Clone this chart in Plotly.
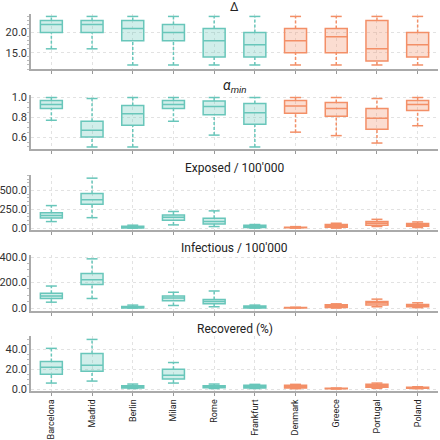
import plotly.graph_objects as go

cities = ["Barcelona", "Madrid", "Berlin", "Milan", "Rome", "Frankfurt",
          "Denmark", "Greece", "Portugal", "Poland"]
group = ["teal"] * 6 + ["orange"] * 4

# Delta
delta_low = [16, 16, 12, 12, 12, 12, 12, 12, 12, 12]
delta_q1 = [20, 20, 18, 18, 14, 14, 15, 15, 13, 14]
delta_med = [22, 22, 21, 20, 18, 17, 18, 19, 16, 17]
delta_q3 = [23, 23, 23, 22, 21, 20, 21, 21, 23, 20]
delta_high = [24, 24, 24, 24, 24, 24, 24, 24, 24, 24]

# alpha_min
alpha_low = [0.77, 0.50, 0.50, 0.76, 0.62, 0.50, 0.65, 0.615, 0.54, 0.715]
alpha_q1 = [0.89, 0.60, 0.72, 0.89, 0.825, 0.73, 0.84, 0.81, 0.68, 0.87]
alpha_med = [0.93, 0.67, 0.835, 0.93, 0.91, 0.845, 0.915, 0.89, 0.79, 0.93]
alpha_q3 = [0.97, 0.76, 0.92, 0.97, 0.965, 0.94, 0.97, 0.95, 0.89, 0.97]
alpha_high = [1.0, 0.99, 1.0, 1.0, 1.0, 1.0, 1.0, 1.0, 0.99, 1.0]

# Exposed / 100'000
exp_low = [87, 139, 0, 43, 21, 0, 0, 0, 22, 8]
exp_q1 = [134, 316, 2, 104, 56, 8, 4, 13, 39, 26]
exp_med = [169, 377, 13, 143, 87, 22, 8, 30, 65, 43]
exp_q3 = [203, 459, 26, 173, 130, 39, 13, 48, 87, 60]
exp_high = [299, 663, 39, 221, 229, 48, 20, 65, 117, 82]

# Infectious / 100'000
inf_low = [46, 75, 0, 20, 10, 0, 0, 0, 10, 3]
inf_q1 = [75, 186, 1, 57, 33, 1, 0.5, 5, 23, 10]
inf_med = [95, 222, 8, 78, 51, 8, 2, 15, 39, 20]
inf_q3 = [116, 271, 12, 95, 67, 15, 4, 26, 51, 28]
inf_high = [173, 387, 23, 124, 134, 23, 6, 33, 70, 41]

# Recovered (%)
rec_low = [6, 8, 0.5, 6, 0.5, 0.5, 0.3, 0, 0.7, 0.3]
rec_q1 = [15, 18, 1, 10, 1.3, 1, 1, 0.2, 1.7, 0.7]
rec_med = [22, 24, 2.3, 14, 2.3, 2.3, 2.3, 0.5, 3.3, 1.3]
rec_q3 = [27.7, 35.7, 3.3, 20, 3.3, 3.7, 3.7, 0.7, 4.7, 1.7]
rec_high = [41, 50, 5, 26.7, 5, 4.7, 4.7, 1, 6, 2.3]

panels = [
    ("Δ", delta_low, delta_q1, delta_med, delta_q3, delta_high, [11, 24.6], 5, 12),
    ("<i>α</i><sub><i>min</i></sub>", alpha_low, alpha_q1, alpha_med, alpha_q3, alpha_high, [0.48, 1.025], 0.2, 14),
    ("Exposed / 100'000", exp_low, exp_q1, exp_med, exp_q3, exp_high, [-25, 705], 250, 12),
    ("Infectious / 100'000", inf_low, inf_q1, inf_med, inf_q3, inf_high, [-24, 418], 200, 12),
    ("Recovered (%)", rec_low, rec_q1, rec_med, rec_q3, rec_high, [-2, 53.5], 20, 12),
]

line_col = {"teal": "rgb(104,198,186)", "orange": "rgb(243,143,103)"}
fill_col = {"teal": "rgba(104,198,186,0.3)", "orange": "rgba(243,143,103,0.3)"}

domains = [[0.854, 1.0], [0.642, 0.785], [0.427, 0.573], [0.212, 0.361], [0.0, 0.146]]

fig = go.Figure()
BOXW = 0.54
CAP = BOXW / 4

for p, (title, lo, q1, med, q3, hi, rng, dt, tsize) in enumerate(panels):
    xa = "x" if p == 0 else f"x{p+1}"
    ya = "y" if p == 0 else f"y{p+1}"
    for i, c in enumerate(cities):
        g = group[i]
        # dashed whiskers
        fig.add_trace(go.Scatter(
            x=[i, i, None, i, i], y=[lo[i], q1[i], None, q3[i], hi[i]],
            mode="lines", line=dict(color=line_col[g], width=1.5, dash="3px,2px"),
            xaxis=xa, yaxis=ya, showlegend=False, hoverinfo="skip"))
        # caps
        fig.add_trace(go.Scatter(
            x=[i - CAP, i + CAP, None, i - CAP, i + CAP],
            y=[lo[i], lo[i], None, hi[i], hi[i]],
            mode="lines", line=dict(color=line_col[g], width=1.5),
            xaxis=xa, yaxis=ya, showlegend=False, hoverinfo="skip"))
        # box
        fig.add_trace(go.Box(
            x=[i], q1=[q1[i]], median=[med[i]], q3=[q3[i]],
            lowerfence=[q1[i]], upperfence=[q3[i]],
            width=BOXW, whiskerwidth=0,
            line=dict(color=line_col[g], width=1.5),
            fillcolor=fill_col[g], boxpoints=False,
            xaxis=xa, yaxis=ya, showlegend=False))

    layout_x = dict(
        domain=[0, 1], range=[-0.5, 9.5], anchor=ya,
        tickmode="array", tickvals=list(range(len(cities))),
        ticktext=cities if p == 4 else [""] * len(cities),
        tickangle=-90, ticks="outside", ticklen=3, tickcolor="#999",
        showline=True, linecolor="#aaa", linewidth=1.5,
        showgrid=True, gridcolor="#e2e2e2", griddash="dot", gridwidth=1,
        zeroline=False, automargin=False,
        tickfont=dict(size=9, color="#222", family="Roboto, sans-serif"),
    )
    if p > 0:
        layout_x["matches"] = "x"
    layout_y = dict(
        domain=domains[p], range=rng, anchor=xa, dtick=dt, tick0=0,
        tickformat=".1f", showline=True, linecolor="#aaa", linewidth=1.5,
        showgrid=True, gridcolor="#e2e2e2", griddash="dot", gridwidth=1,
        zeroline=False, ticks="", automargin=False,
        tickfont=dict(size=11, color="#333"),
        minor=dict(ticks="outside", ticklen=2, tickcolor="#bbb", nticks=5),
    )
    fig.layout[("xaxis" if p == 0 else f"xaxis{p+1}")] = layout_x
    fig.layout[("yaxis" if p == 0 else f"yaxis{p+1}")] = layout_y
    fig.add_annotation(
        text=title, xref="paper", yref="paper", x=0.5, y=domains[p][1],
        yshift=-2, xanchor="center", yanchor="bottom", showarrow=False,
        font=dict(size=tsize, color="#222"))

fig.update_layout(
    width=440, height=440,
    margin=dict(l=31, r=2, t=14, b=49),
    paper_bgcolor="white", plot_bgcolor="white",
    font=dict(family="Roboto, sans-serif", size=11, color="#333"),
    showlegend=False,
)

fig.write_html("out.html", config={"displayModeBar": False},
               post_script="document.body.style.margin='0px';document.body.style.overflow='hidden';")
